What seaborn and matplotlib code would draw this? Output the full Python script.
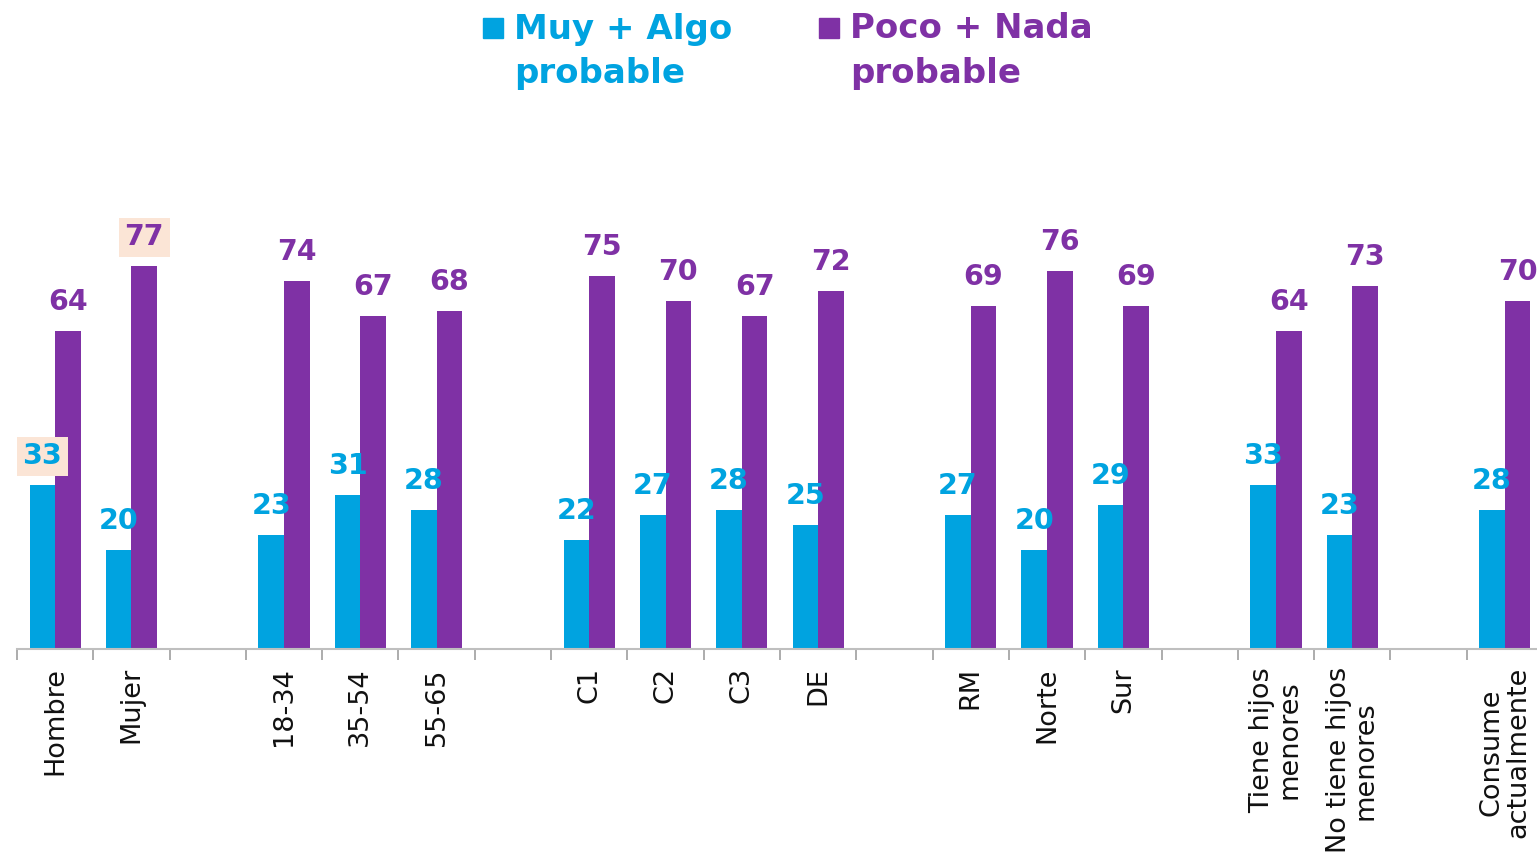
import matplotlib
matplotlib.use("Agg")
import matplotlib.pyplot as plt
import seaborn as sns
import pandas as pd
import numpy as np
from matplotlib.patches import Rectangle

# ---- data ----
categories = ["Hombre", "Mujer", "18-34", "35-54", "55-65", "C1", "C2", "C3", "DE",
              "RM", "Norte", "Sur", "Tiene hijos\nmenores", "No tiene hijos\nmenores",
              "Consume\nactualmente"]
muy_algo = [33, 20, 23, 31, 28, 22, 27, 28, 25, 27, 20, 29, 33, 23, 28]
poco_nada = [64, 77, 74, 67, 68, 75, 70, 67, 72, 69, 76, 69, 64, 73, 70]
series = ["Muy + Algo\nprobable", "Poco + Nada\nprobable"]
# slot order with empty separator slots between groups
slot_order = ["Hombre", "Mujer", "_g1", "18-34", "35-54", "55-65", "_g2",
              "C1", "C2", "C3", "DE", "_g3", "RM", "Norte", "Sur", "_g4",
              "Tiene hijos\nmenores", "No tiene hijos\nmenores", "_g5",
              "Consume\nactualmente"]
highlight = {("Hombre", 0), ("Mujer", 1)}

BLUE = "#00A3E0"
PURPLE = "#7F31A5"
colors = [BLUE, PURPLE]

df = pd.DataFrame({
    "cat": categories * 2,
    "serie": [series[0]] * len(categories) + [series[1]] * len(categories),
    "val": muy_algo + poco_nada,
})

sns.set_theme(style="white")
plt.rcParams["font.family"] = ["DejaVu Sans"]

W, H = 1537, 858
fig = plt.figure(figsize=(W / 100, H / 100), dpi=100)
ax = fig.add_axes([17 / W, 209 / H, 1526 / W, 497.5 / H])

sns.barplot(data=df, x="cat", y="val", hue="serie", order=slot_order,
            hue_order=series, palette=colors, width=0.67, dodge=True,
            saturation=1, legend=False, ax=ax, errorbar=None, linewidth=0)

ax.set_ylim(0, 100)
ax.set_xlim(-0.5, len(slot_order) - 0.5)

# value labels
for si, cont in enumerate(ax.containers):
    bars = [b for b in cont if not np.isnan(b.get_height())]
    for b in bars:
        h = b.get_height()
        x = b.get_x() + b.get_width() / 2
        idx = int(round(x))
        cat = slot_order[idx]
        t = ax.annotate(f"{int(round(h))}", (x, h), xytext=(0, 20.5),
                        textcoords="offset points", ha="center", va="center",
                        fontsize=20.5, fontweight="bold", color=colors[si])
        if (cat, si) in highlight:
            t.set_bbox(dict(boxstyle="square,pad=0.2", fc="#FBE5D6", ec="none"))

# ticks: labels at centers, marks at boundaries
pos = [i for i, c in enumerate(slot_order)]
labels = ["" if c.startswith("_g") else c for c in slot_order]
ax.set_xticks(pos)
ax.set_xticklabels(labels, rotation=90, fontsize=19.5, color="#111111",
                   multialignment="center", linespacing=1.05)
ax.tick_params(axis="x", which="major", length=0, pad=13)
ax.set_xticks(np.arange(-0.5, len(slot_order), 1.0), minor=True)
ax.tick_params(axis="x", which="minor", length=8, width=1.3, color="#A6A6A6",
               direction="out", bottom=True)
ax.set_yticks([])
ax.set_xlabel("")
ax.set_ylabel("")
for s in ["top", "right", "left"]:
    ax.spines[s].set_visible(False)
ax.spines["bottom"].set_color("#BFBFBF")
ax.spines["bottom"].set_linewidth(1.5)

# legend (manual, figure coordinates)
leg_items = [(483, BLUE, "Muy + Algo", "probable"), (819, PURPLE, "Poco + Nada", "probable")]
for x0, col, l1, l2 in leg_items:
    fig.patches.append(Rectangle((x0 / W, 1 - 38 / H), 20 / W, 20 / H,
                                 transform=fig.transFigure, color=col))
    fig.text((x0 + 31) / W, 1 - 29 / H, l1, fontsize=24.5, fontweight="bold",
             color=col, ha="left", va="center")
    fig.text((x0 + 31) / W, 1 - 73 / H, l2, fontsize=24.5, fontweight="bold",
             color=col, ha="left", va="center")

fig.savefig("out.png", dpi=100)
